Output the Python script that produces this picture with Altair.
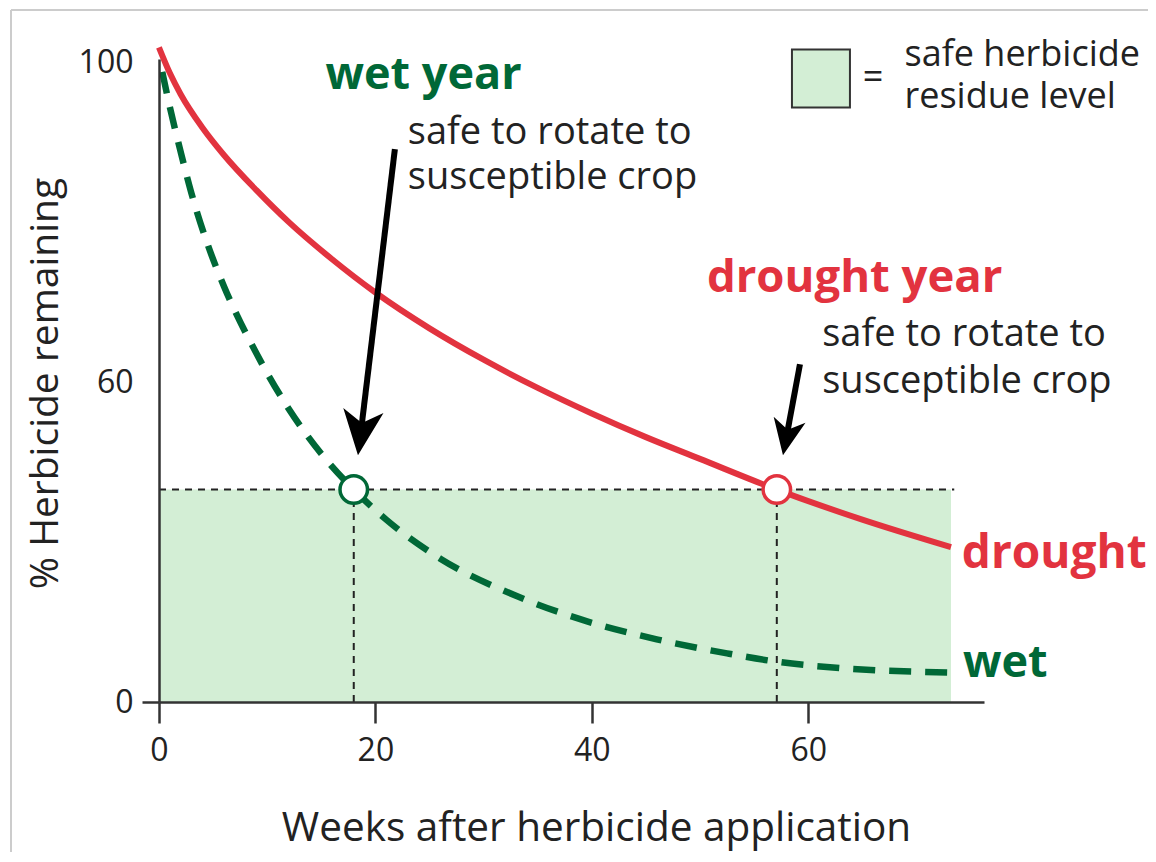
import altair as alt
import pandas as pd

# ---------------- data ----------------
drought_weeks = [0, 1, 2, 4, 6, 9, 12, 16, 20, 25, 30, 35, 40, 45, 50, 57.1, 65, 73.2]
drought_pct = [102.3, 98.3, 95.0, 89.8, 85.5, 80.0, 75.0, 69.2, 64.0, 58.4, 53.5, 49.1, 45.1, 41.4, 38.0, 33.2, 28.5, 24.2]

wet_weeks = [0.3, 1, 2, 3, 4.5, 6, 9, 12, 15, 18, 21, 26, 33, 39, 46, 52.5, 57.1, 63, 73.2]
wet_pct = [98.5, 93.0, 86.0, 79.5, 71.5, 65.0, 54.5, 45.8, 38.8, 33.2, 28.5, 22.4, 16.6, 12.9, 9.8, 7.6, 6.3, 5.3, 4.6]

safe_level = 33.2
safe_end_week = 73.2
guide_end_week = 73.5
safe_cross_weeks = [18, 57.1]          # wet, drought
safe_cross_series = ["wet", "drought"]

x_ticks = [0, 20, 40, 60]
y_tick_pos = [0, 50, 100]
y_tick_labels = ["0", "60", "100"]

RED = "#e2333f"
GREEN = "#006837"
LIGHT = "#d3eed5"
AXIS = "#333333"
TEXT = "#222222"
FONT = "Open Sans"

W, H = 825, 643
xs = alt.Scale(domain=[0, 76.25], nice=False, zero=False)
ys = alt.Scale(domain=[0, 100.5], nice=False, zero=False)

label_expr = ""
for p, l in zip(y_tick_pos, y_tick_labels):
    label_expr += f"datum.value == {p} ? '{l}' : "
label_expr += "datum.label"

x_axis = alt.Axis(values=x_ticks, tickSize=21, tickWidth=2.5, tickColor=AXIS,
                  domainColor=AXIS, domainWidth=2.5, grid=False, zindex=1,
                  labelFont=FONT, labelFontSize=32, labelColor=TEXT, labelPadding=27,
                  labelBaseline="middle", labelFlush=False, labelOverlap=False,
                  title="Weeks after herbicide application", titleFont=FONT,
                  titleFontSize=40.5, titleFontWeight="normal", titleColor=TEXT,
                  titleX=437, titleY=126, titleAlign="center", titleBaseline="middle")
y_axis = alt.Axis(values=y_tick_pos, labelExpr=label_expr, tickSize=17, tickWidth=2.5,
                  tickColor={"expr": f"datum.value == 0 ? '{AXIS}' : 'transparent'"},
                  domainColor=AXIS, domainWidth=2.5, grid=False, zindex=1,
                  labelFont=FONT, labelFontSize=32, labelColor=TEXT, labelPadding=9,
                  labelBaseline="middle", labelOverlap=False,
                  title="% Herbicide remaining", titleFont=FONT, titleFontSize=39,
                  titleFontWeight="normal", titleColor=TEXT,
                  titleX=-114, titleY=324, titleAngle=270, titleAlign="center",
                  titleBaseline="middle")

# safe zone
safe_df = pd.DataFrame({"x": [0], "x2": [safe_end_week], "y": [0], "y2": [safe_level]})
safe = alt.Chart(safe_df).mark_rect(color=LIGHT).encode(
    x=alt.X("x:Q", scale=xs, axis=x_axis), x2="x2", y=alt.Y("y:Q", scale=ys, axis=y_axis), y2="y2")

hguide = alt.Chart(pd.DataFrame({"x": [0], "x2": [guide_end_week], "y": [safe_level]})).mark_rule(
    color="#222", strokeWidth=2, strokeDash=[7, 6]).encode(
    x=alt.X("x:Q", scale=xs), x2="x2", y=alt.Y("y:Q", scale=ys))

vguide = alt.Chart(pd.DataFrame({"x": safe_cross_weeks, "y": [0, 0], "y2": [safe_level] * 2})).mark_rule(
    color="#222", strokeWidth=2, strokeDash=[7, 6]).encode(
    x=alt.X("x:Q", scale=xs), y=alt.Y("y:Q", scale=ys), y2="y2")

wet = alt.Chart(pd.DataFrame({"x": wet_weeks, "y": wet_pct})).mark_line(
    color=GREEN, strokeWidth=6.5, strokeDash=[22, 14], interpolate="monotone", clip=False).encode(
    x=alt.X("x:Q", scale=xs), y=alt.Y("y:Q", scale=ys))

drought = alt.Chart(pd.DataFrame({"x": drought_weeks, "y": drought_pct})).mark_line(
    color=RED, strokeWidth=6, interpolate="monotone", clip=False).encode(
    x=alt.X("x:Q", scale=xs), y=alt.Y("y:Q", scale=ys))

circ_df = pd.DataFrame({"x": safe_cross_weeks, "y": [safe_level] * 2, "s": safe_cross_series})
circles = alt.Chart(circ_df).mark_point(shape="circle", filled=True, fill="white", size=756,
                                        strokeWidth=3.5, opacity=1).encode(
    x=alt.X("x:Q", scale=xs), y=alt.Y("y:Q", scale=ys),
    stroke=alt.Stroke("s:N", scale=alt.Scale(domain=["wet", "drought"], range=[GREEN, RED]), legend=None))

# arrows
ARROW = "M0,0 L-0.45,-1 L0,-0.72 L0.45,-1 Z"
def arrow(x0, y0, x1, y1, tx, ty, ang, size):
    shaft = alt.Chart(pd.DataFrame({"x": [x0], "y": [y0], "x2": [x1], "y2": [y1]})).mark_rule(
        color="black", strokeWidth=6).encode(
        x=alt.X("x:Q", scale=xs), y=alt.Y("y:Q", scale=ys), x2="x2", y2="y2")
    head = alt.Chart(pd.DataFrame({"x": [tx], "y": [ty]})).mark_point(
        shape=ARROW, filled=True, color="black", opacity=1, size=size, angle=ang).encode(
        x=alt.X("x:Q", scale=xs), y=alt.Y("y:Q", scale=ys))
    return shaft + head

arrow1 = arrow(21.8, 86.4, 18.73, 43.2, 18.39, 38.57, 6.9, 8100)
arrow2 = arrow(59.24, 52.8, 58.1, 42.4, 57.67, 38.57, 10.6, 5184)

def texts(rows, size, weight, color, align, line_height=None):
    df = pd.DataFrame(rows, columns=["x", "y", "t"])
    kw = dict(font=FONT, fontSize=size, fontWeight=weight, color=color,
              align=align, baseline="middle", lineBreak="\n")
    if line_height:
        kw["lineHeight"] = line_height
    return alt.Chart(df).mark_text(**kw).encode(
        x=alt.X("x:Q", scale=xs), y=alt.Y("y:Q", scale=ys), text="t:N")

notes1 = texts([(23.0, 88.9, "safe to rotate to\nsusceptible crop")], 38, "normal", TEXT, "left", 45)
notes2 = texts([(61.3, 57.3, "safe to rotate to\nsusceptible crop")], 38, "normal", TEXT, "left", 47)
legend_txt = texts([(68.9, 101.1, "safe herbicide\nresidue level")], 36, "normal", TEXT, "left", 42)
eq = texts([(66.0, 97.5, "=")], 36, "normal", TEXT, "center")
green_c = texts([(24.45, 98.0, "wet year")], 45, "bold", GREEN, "center")
green_l = texts([(74.3, 6.05, "wet")], 45, "bold", GREEN, "left")
red_c = texts([(64.3, 66.2, "drought year")], 45.5, "bold", RED, "center")
red_l = texts([(74.2, 23.2, "drought")], 46, "bold", RED, "left")

legend_box = alt.Chart(pd.DataFrame({"x": [58.5], "x2": [63.86], "y": [92.9], "y2": [101.98]})).mark_rect(
    fill=LIGHT, stroke=AXIS, strokeWidth=2, clip=False).encode(
    x=alt.X("x:Q", scale=xs), x2="x2", y=alt.Y("y:Q", scale=ys), y2="y2")

frame = alt.Chart(pd.DataFrame({"a": [0]})).mark_rule(color="#cccccc", strokeWidth=2).encode(
    x=alt.value(-148), x2=alt.value(1000), y=alt.value(-49))
frame2 = alt.Chart(pd.DataFrame({"a": [0]})).mark_rule(color="#cccccc", strokeWidth=2).encode(
    x=alt.value(-148), y=alt.value(-49), y2=alt.value(800))

chart = alt.layer(
    frame, frame2, safe, hguide, vguide, wet, drought, circles, arrow1, arrow2,
    notes1, notes2, legend_txt, eq, green_c, green_l, red_c, red_l, legend_box
).properties(
    width=W, height=H,
    autosize=alt.AutoSizeParams(type="none"),
    padding={"left": 151, "top": 51, "right": 164, "bottom": 150},
    background="white",
).configure_view(stroke=None)

chart.save("out.html", embed_options={"renderer": "svg", "actions": False})
